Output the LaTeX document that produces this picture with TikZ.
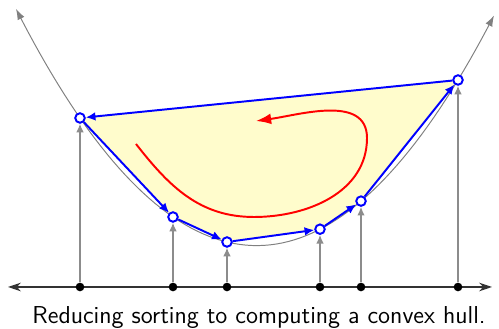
\documentclass[tikz,border=0pt]{standalone}
\usepackage{tikz}
\usetikzlibrary{arrows.meta}

\begin{document}
\begin{tikzpicture}[
  x=0.1623cm, y=0.1623cm,
  axis/.style={{Stealth[length=6pt,width=4pt]}-{Stealth[length=6pt,width=4pt]}, line width=0.7pt, black!80},
  curve/.style={{Latex[length=5pt,width=3.5pt]}-{Latex[length=5pt,width=3.5pt]}, gray, line width=0.45pt},
  lift/.style={-{Latex[length=4pt,width=3.5pt]}, gray!90, line width=0.6pt},
  hull/.style={-{Latex[length=4.5pt,width=4pt]}, blue, line width=0.9pt},
  spiral/.style={-{Latex[length=7pt,width=5pt]}, red, line width=0.9pt},
  xdot/.style={circle, fill=black, inner sep=0pt, minimum size=4pt},
  lpt/.style={circle, draw=blue, fill=white, line width=0.9pt, inner sep=0pt, minimum size=4.4pt}
]
\useasboundingbox (0,-4.2) rectangle (49.9,28.7);

%% Points on the line and on the parabola
\coordinate (c1) at (8.0,16.90);
\coordinate (c2) at (17.3,7.00);
\coordinate (c3) at (22.7,4.50);
\coordinate (c4) at (32.0,5.78);
\coordinate (c5) at (36.1,8.59);
\coordinate (c6) at (45.8,20.70);

%% Hull region
\fill[yellow!20] (c1) -- (c2) -- (c3) -- (c4) -- (c5) -- (c6) -- cycle;

%% Parabola
\draw[curve] plot[domain=1.6:49.4, samples=80] (\x, {0.04087*(\x-25.67)^2+4.14});

%% Number line
\coordinate (axl) at (0.8,0);
\coordinate (axr) at (49.2,0);
\draw[axis] (axl) -- (axr);

\node[xdot] (x1) at (8.0,0) {};
\node[xdot] (x2) at (17.3,0) {};
\node[xdot] (x3) at (22.7,0) {};
\node[xdot] (x4) at (32.0,0) {};
\node[xdot] (x5) at (36.1,0) {};
\node[xdot] (x6) at (45.8,0) {};

%% Lifted points
\node[lpt] (p1) at (c1) {};
\node[lpt] (p2) at (c2) {};
\node[lpt] (p3) at (c3) {};
\node[lpt] (p4) at (c4) {};
\node[lpt] (p5) at (c5) {};
\node[lpt] (p6) at (c6) {};

\foreach \i in {1,...,6}
  \draw[lift] (x\i) -- (p\i);

%% Convex hull
\draw[hull] (p1) -- (p2);
\draw[hull] (p2) -- (p3);
\draw[hull] (p3) -- (p4);
\draw[hull] (p4) -- (p5);
\draw[hull] (p5) -- (p6);
\draw[hull] (p6) -- (p1);

%% Orientation
\coordinate (s0) at (13.6,14.3);
\coordinate (s1) at (25.4,7.0);
\coordinate (s2) at (36.7,14.9);
\coordinate (s3) at (25.6,16.6);
\draw[spiral] (s0) to[out=-52,in=180] (s1) to[out=0,in=-90] (s2) to[out=90,in=8] (s3);

%% Caption
\node[font=\sffamily\fontsize{11.3}{13}\selectfont] (cap) at (25.9,-3.1) {Reducing sorting to computing a convex hull.};

\end{tikzpicture}
\end{document}
